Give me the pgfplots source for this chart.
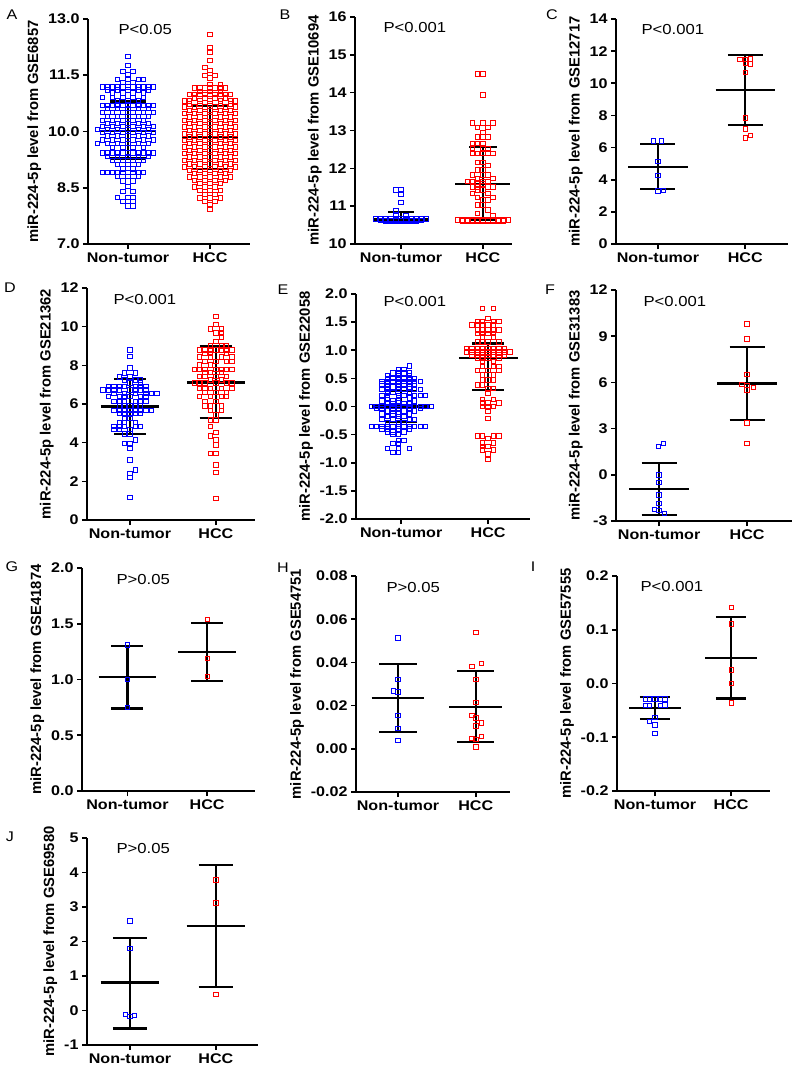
\documentclass[border=0pt]{standalone}
\usepackage{fontspec}
\setmainfont{Liberation Sans}[FakeStretch=1.15]
\newfontfamily\ylfont{Liberation Sans}
\usepackage{pgfplots}
\pgfplotsset{compat=1.18}
\definecolor{ntblue}{RGB}{0,0,255}
\definecolor{hccred}{RGB}{255,0,0}
\pgfplotsset{
 panel/.style={
  scale only axis, axis lines*=left, clip=false,
  axis line style={line width=1.6pt, black, -},
  tick align=outside, major tick length=5pt,
  tick style={line width=1.6pt, black},
  xtick pos=bottom, ytick pos=left,
  scaled y ticks=false, scaled x ticks=false,
  xticklabel style={font=\bfseries\fontsize{14}{14}\selectfont},
  yticklabel style={font=\bfseries\fontsize{14}{14}\selectfont},
  ylabel style={font=\ylfont\bfseries\fontsize{14.8}{15}\selectfont},
  xticklabels={Non-tumor,HCC},
  anchor=south west,
 },
 nt/.style={only marks, mark=square, mark size=2.2pt, color=ntblue, mark options={line width=0.9pt, solid}},
 hcc/.style={only marks, mark=square, mark size=2.2pt, color=hccred, mark options={line width=0.9pt, solid}},
 bar/.style={black, line width=2.2pt, mark=none},
}
\newcommand\hseg[3]{\addplot[bar] coordinates {(#1,#3)(#2,#3)};}
\newcommand\vseg[3]{\addplot[bar] coordinates {(#1,#2)(#1,#3)};}
\tikzset{ptxt/.style={anchor=west, font=\fontsize{14.5}{15}\selectfont},
  ltr/.style={font=\fontsize{14}{14}\selectfont}}
\begin{document}
\begin{tikzpicture}
\useasboundingbox (0,0) rectangle (800pt,-1070pt);
% ---------------- A
\begin{axis}[panel, at={(88pt,-244pt)}, width=162pt, height=225pt,
  xmin=-7.8, xmax=23.8, ymin=7, ymax=13, xtick={0,16},
  ytick={7,8.5,10,11.5,13}, yticklabels={7.0,8.5,10.0,11.5,13.0},
  ylabel={miR-224-5p level from GSE6857}]
\addplot[nt] coordinates {(0,12.0)(0,11.76)(-1,11.6)(1,11.6)(0,11.52)
(-2,11.38)(0,11.38)(2,11.38)(3,11.38)(-1,11.3)(1,11.3)
(-5,11.19)(-4,11.19)(-3,11.19)(-2,11.19)(-1,11.19)(0,11.19)(1,11.19)(2,11.19)(3,11.19)(4,11.19)(5,11.19)
(-4,11.11)(-2,11.11)(0,11.11)(2,11.11)(4,11.11)
(-3,11.03)(-1,11.03)(1,11.03)(3,11.03)
(-5,10.9)(-3,10.9)(-1,10.9)(1,10.9)(3,10.9)
(-2,10.83)(0,10.83)(2,10.83)
(-5,10.7)(-4,10.7)(-3,10.7)(-2,10.7)(-1,10.7)(0,10.7)(1,10.7)(2,10.7)(3,10.7)(4,10.7)(5,10.7)
(-4,10.62)(-2,10.62)(0,10.62)(2,10.62)(4,10.62)
(-5,10.51)(-3,10.51)(-1,10.51)(1,10.51)(3,10.51)(5,10.51)
(-4,10.4)(-2,10.4)(0,10.4)(2,10.4)(4,10.4)
(-5,10.3)(-3,10.3)(-1,10.3)(1,10.3)(3,10.3)
(-4,10.21)(-2,10.21)(0,10.21)(2,10.21)(4,10.21)
(-5,10.13)(-3,10.13)(-1,10.13)(1,10.13)(3,10.13)(5,10.13)
(-6,10.05)(-4,10.05)(-2,10.05)(0,10.05)(2,10.05)(4,10.05)
(-5,9.97)(-3,9.97)(-1,9.97)(1,9.97)(3,9.97)(5,9.97)
(-4,9.88)(-2,9.88)(0,9.88)(2,9.88)(4,9.88)
(-5,9.78)(-3,9.78)(-1,9.78)(1,9.78)(3,9.78)(5,9.78)
(-6,9.68)(-4,9.68)(-2,9.68)(0,9.68)(2,9.68)(4,9.68)
(-3,9.57)(-1,9.57)(1,9.57)(3,9.57)
(-5,9.43)(-4,9.43)(-3,9.43)(-2,9.43)(-1,9.43)(0,9.43)(1,9.43)(2,9.43)(3,9.43)(4,9.43)(5,9.43)
(-4,9.34)(-2,9.34)(0,9.34)(2,9.34)(4,9.34)
(-3,9.23)(-1,9.23)(1,9.23)(3,9.23)
(-2,9.12)(0,9.12)(2,9.12)(-1,9.0)(1,9.0)
(-5,8.91)(-4,8.91)(-3,8.91)(-2,8.91)(-1,8.91)(0,8.91)(1,8.91)(2,8.91)(3,8.91)
(-2,8.8)(0,8.8)(2,8.8)(-1,8.68)(1,8.68)(0,8.54)(-1,8.4)(1,8.4)
(-2,8.24)(0,8.24)(1,8.24)(-1,8.13)(1,8.13)(0,8.02)(1,8.02)};
\addplot[hcc] coordinates {(16,12.58)(16,12.24)(16,12.1)(16,11.9)(15,11.71)(16,11.62)
(15,11.49)(17,11.49)(16,11.43)(16,11.25)(18,11.25)
(13,11.16)(14,11.16)(15,11.16)(16,11.16)(17,11.16)(18,11.16)(19,11.16)
(14,11.07)(16,11.07)(18,11.07)
(12,10.98)(13,10.98)(14,10.98)(15,10.98)(16,10.98)(17,10.98)(18,10.98)(19,10.98)(20,10.98)
(13,10.89)(15,10.89)(17,10.89)(19,10.89)
(11,10.82)(12,10.82)(14,10.82)(16,10.82)(18,10.82)(20,10.82)(21,10.82)
(12,10.74)(14,10.74)(16,10.74)(18,10.74)(20,10.74)
(11,10.65)(13,10.65)(15,10.65)(17,10.65)(19,10.65)(21,10.65)
(12,10.56)(14,10.56)(16,10.56)(18,10.56)(20,10.56)
(11,10.48)(13,10.48)(15,10.48)(17,10.48)(19,10.48)(21,10.48)
(12,10.39)(14,10.39)(16,10.39)(18,10.39)(20,10.39)
(11,10.3)(13,10.3)(15,10.3)(17,10.3)(19,10.3)(21,10.3)
(12,10.21)(14,10.21)(16,10.21)(18,10.21)(20,10.21)
(11,10.12)(13,10.12)(15,10.12)(17,10.12)(19,10.12)(21,10.12)
(12,10.03)(14,10.03)(16,10.03)(18,10.03)(20,10.03)
(11,9.94)(13,9.94)(15,9.94)(17,9.94)(19,9.94)(21,9.94)
(12,9.85)(14,9.85)(16,9.85)(18,9.85)(20,9.85)
(11,9.76)(13,9.76)(15,9.76)(17,9.76)(19,9.76)(21,9.76)
(12,9.68)(14,9.68)(16,9.68)(18,9.68)(20,9.68)
(11,9.59)(13,9.59)(15,9.59)(17,9.59)(19,9.59)(21,9.59)
(12,9.5)(14,9.5)(16,9.5)(18,9.5)(20,9.5)
(11,9.41)(13,9.41)(15,9.41)(17,9.41)(19,9.41)(21,9.41)
(12,9.32)(14,9.32)(16,9.32)(18,9.32)(20,9.32)
(11,9.23)(13,9.23)(15,9.23)(17,9.23)(19,9.23)(21,9.23)
(12,9.14)(14,9.14)(16,9.14)(18,9.14)(20,9.14)
(11,9.05)(13,9.05)(15,9.05)(17,9.05)(19,9.05)(21,9.05)
(12,8.96)(14,8.96)(16,8.96)(18,8.96)(20,8.96)
(13,8.88)(15,8.88)(17,8.88)(19,8.88)
(12,8.79)(14,8.79)(16,8.79)(18,8.79)(20,8.79)
(13,8.7)(15,8.7)(17,8.7)(19,8.7)
(14,8.61)(16,8.61)(18,8.61)(13,8.52)(15,8.52)(17,8.52)
(14,8.43)(16,8.43)(18,8.43)(15,8.32)(17,8.32)
(14,8.23)(16,8.23)(18,8.23)(15,8.14)(17,8.14)(16,8.05)(16,7.92)};
\hseg{-5.4}{5.4}{10.02}\hseg{-3.5}{3.5}{10.8}\hseg{-3.5}{3.5}{9.28}\vseg{0}{9.28}{10.8}
\hseg{10.6}{21.4}{9.85}\hseg{12.5}{19.5}{10.69}\hseg{12.5}{19.5}{9.0}\vseg{16}{9.0}{10.69}
\end{axis}
% ---------------- B
\begin{axis}[panel, at={(355pt,-244pt)}, width=157pt, height=227pt,
  xmin=-9, xmax=21.7, ymin=10, ymax=16, xtick={0,16},
  ytick={10,11,...,16}, yticklabels={10,11,12,13,14,15,16},
  ylabel={miR-224-5p level from GSE10694}]
\addplot[nt] coordinates {(-1,11.43)(0,11.43)(0,11.32)(0,11.1)(-1,10.88)(-1,10.76)(1,10.76)
(-5,10.66)(-4,10.66)(-3,10.66)(-2,10.66)(-1,10.66)(0,10.66)(1,10.66)(2,10.66)(3,10.66)(4,10.66)(5,10.66)
(-4,10.63)(-3,10.63)(-2,10.63)(-1,10.63)(0,10.63)(1,10.63)(2,10.63)(3,10.63)(4,10.63)
(-3,10.61)(-2,10.61)(-1,10.61)(0,10.61)(1,10.61)(2,10.61)(3,10.61)};
\addplot[hcc] coordinates {(15,14.49)(16,14.49)(16,13.94)
(14,13.2)(16,13.2)(18,13.2)(15,13.08)(17,13.08)(16,12.95)
(15,12.83)(16,12.83)(17,12.83)(14,12.66)(15,12.66)(16,12.66)
(14,12.52)(16,12.52)(17,12.52)(14,12.4)(15,12.4)(16,12.4)(17,12.4)(18,12.4)
(15,12.15)(16,12.15)(17,12.07)(15,11.96)(16,11.96)
(14,11.82)(16,11.82)(17,11.82)(15,11.74)(18,11.74)
(13,11.65)(14,11.65)(16,11.65)(17,11.65)(15,11.59)(16,11.59)
(14,11.51)(15,11.51)(17,11.51)(18,11.51)(15,11.43)(16,11.43)
(14,11.34)(17,11.34)(15,11.23)(18,11.23)(16,11.16)(17,11.16)
(15,11.03)(16,11.03)(17,10.9)(15,10.81)(18,10.74)
(11,10.64)(12,10.64)(13,10.64)(14,10.64)(15,10.64)(16,10.64)(17,10.64)(18,10.64)(19,10.64)(20,10.64)(21,10.64)
(12,10.61)(13,10.61)(14,10.61)(15,10.61)(16,10.61)(17,10.61)(18,10.61)(19,10.61)(20,10.61)};
\hseg{-5.4}{5.4}{10.65}\hseg{-2.5}{2.5}{10.85}\hseg{-2.5}{2.5}{10.56}\vseg{0}{10.56}{10.85}
\hseg{10.6}{21.4}{11.59}\hseg{13.3}{18.7}{12.56}\hseg{13.3}{18.7}{10.63}\vseg{16}{10.63}{12.56}
\end{axis}
% ---------------- C
\begin{axis}[panel, at={(616pt,-244pt)}, width=172pt, height=225pt,
  xmin=0.52, xmax=2.49, ymin=0, ymax=14, xtick={1,2},
  ytick={0,2,...,14}, yticklabels={0,2,4,6,8,10,12,14},
  ylabel={miR-224-5p level from GSE12717}]
\addplot[nt] coordinates {(0.95,6.4)(1.04,6.4)(1.0,5.14)(1.0,4.25)(1.0,3.3)(1.06,3.35)};
\addplot[hcc] coordinates {(1.94,11.48)(2.0,11.48)(2.06,11.52)(2.0,11.23)(2.06,11.2)(2.0,10.67)(2.0,7.85)(2.0,7.15)(2.0,6.6)(2.06,6.75)};
\hseg{0.66}{1.34}{4.8}\hseg{0.8}{1.2}{6.2}\hseg{0.8}{1.2}{3.4}\vseg{1}{3.4}{6.2}
\hseg{1.66}{2.34}{9.58}\hseg{1.8}{2.2}{11.76}\hseg{1.8}{2.2}{7.4}\vseg{2}{7.4}{11.76}
\end{axis}
% ---------------- D
\begin{axis}[panel, at={(87pt,-520pt)}, width=168pt, height=232pt,
  xmin=-8, xmax=23.3, ymin=0, ymax=12, xtick={0,16},
  ytick={0,2,...,12}, yticklabels={0,2,4,6,8,10,12},
  ylabel={miR-224-5p level from GSE21362}]
\addplot[nt] coordinates {(0,8.8)(0,8.46)(0,7.86)(-1,7.6)(1,7.6)(-2,7.39)(0,7.39)
(-1,7.25)(1,7.25)(2,7.25)(0,7.08)(2,7.08)
(-4,6.9)(-3,6.9)(-2,6.9)(-1,6.9)(1,6.9)(2,6.9)(3,6.9)
(-5,6.73)(-4,6.73)(-3,6.73)(-2,6.73)(0,6.73)(1,6.73)(2,6.73)(3,6.73)
(-3,6.56)(-1,6.56)(1,6.56)(3,6.56)(4,6.56)(5,6.56)
(-4,6.39)(-2,6.39)(-1,6.39)(0,6.39)(2,6.39)(3,6.39)
(-3,6.13)(-2,6.13)(-1,6.13)(1,6.13)(2,6.13)(3,6.13)
(-2,5.9)(-1,5.9)(0,5.9)(1,5.9)(2,5.9)
(-3,5.66)(-2,5.66)(-1,5.66)(0,5.66)(1,5.66)(2,5.66)(3,5.66)(4,5.66)
(-2,5.52)(-1,5.52)(0,5.52)(1,5.52)(2,5.52)(-1,5.26)(0,5.26)
(-2,5.04)(-1,5.04)(1,5.04)(-3,4.83)(-2,4.83)(-1,4.83)(1,4.83)(2,4.83)
(-3,4.69)(-2,4.69)(0,4.69)(-1,4.45)(0,4.45)(1,4.14)(-1,3.97)(0,3.97)
(0,3.71)(0,3.1)(1,2.59)(0,2.42)(0,2.2)(0,1.17)};
\addplot[hcc] coordinates {(16,10.53)(16,10.1)(15,9.88)(17,9.88)(16,9.67)(17,9.67)(17,9.46)(16,9.24)
(15,9.01)(17,9.01)(18,9.01)
(13,8.8)(14,8.8)(15,8.8)(16,8.8)(17,8.8)(18,8.8)(19,8.8)
(14,8.6)(15,8.6)(18,8.6)(13,8.43)(15,8.43)(17,8.43)(19,8.43)
(14,8.2)(16,8.2)(18,8.2)(19,8.2)(13,8.03)(15,8.03)
(12,7.8)(13,7.8)(14,7.8)(16,7.8)(17,7.8)(18,7.8)(19,7.8)
(14,7.63)(15,7.63)(17,7.63)(13,7.42)(14,7.42)(16,7.42)(18,7.42)(15,7.25)(17,7.25)
(12,7.08)(13,7.08)(14,7.08)(16,7.08)(18,7.08)(19,7.08)
(13,6.82)(14,6.82)(15,6.82)(17,6.82)(19,6.82)(14,6.59)(16,6.59)(18,6.59)
(13,6.39)(15,6.39)(17,6.39)(18,6.39)(14,6.13)(16,6.13)(14,5.9)(15,5.9)(17,5.9)
(15,5.66)(17,5.66)(16,5.44)(15,5.18)(16,5.18)(15,4.83)(16,4.52)(15,4.35)(16,4.14)(16,3.88)
(15,3.45)(16,3.45)(16,2.85)(16,2.45)(16,1.12)};
\hseg{-5.4}{5.4}{5.87}\hseg{-3}{3}{7.28}\hseg{-3}{3}{4.45}\vseg{0}{4.45}{7.28}
\hseg{10.6}{21.4}{7.11}\hseg{13}{19}{8.98}\hseg{13}{19}{5.26}\vseg{16}{5.26}{8.98}
\end{axis}
% ---------------- E
\begin{axis}[panel, at={(356pt,-519pt)}, width=174pt, height=225pt,
  xmin=-8.3, xmax=23.7, ymin=-2, ymax=2, xtick={0,16},
  ytick={-2,-1.5,...,2}, yticklabels={-2.0,-1.5,-1.0,-0.5,0.0,0.5,1.0,1.5,2.0},
  ylabel={miR-224-5p level from GSE22058}]
\addplot[nt] coordinates {(1.5,0.72)(-0.5,0.66)(0.5,0.66)
(-1.5,0.6)(-0.5,0.6)(0.5,0.6)(1.5,0.6)(-2.5,0.55)(-0.5,0.55)(1.5,0.55)
(-2.5,0.5)(-1.5,0.5)(-0.5,0.5)(0.5,0.5)(1.5,0.5)(2.5,0.5)
(-3.5,0.45)(-2.5,0.45)(-1.5,0.45)(-0.5,0.45)(0.5,0.45)(1.5,0.45)(2.5,0.45)(3.5,0.45)
(-3.5,0.4)(-2.5,0.4)(-0.5,0.4)(0.5,0.4)(1.5,0.4)(2.5,0.4)
(-2.5,0.35)(-1.5,0.35)(-0.5,0.35)(1.5,0.35)
(-3.5,0.3)(-2.5,0.3)(-0.5,0.3)(0.5,0.3)(2.5,0.3)(3.5,0.3)
(-2.5,0.25)(-1.5,0.25)(1.5,0.25)
(-3.5,0.2)(-2.5,0.2)(-0.5,0.2)(0.5,0.2)(2.5,0.2)(3.5,0.2)(4.5,0.2)
(-2.5,0.15)(-0.5,0.15)(1.5,0.15)(-3.5,0.1)(-1.5,0.1)(-0.5,0.1)(2.5,0.1)
(-2.5,0.05)(-1.5,0.05)(0.5,0.05)(1.5,0.05)
(-5.5,0)(-4.5,0)(-3.5,0)(-2.5,0)(-1.5,0)(-0.5,0)(0.5,0)(1.5,0)(2.5,0)(3.5,0)(4.5,0)(5.5,0)
(-4.5,-0.03)(-3.5,-0.03)(-1.5,-0.03)(-0.5,-0.03)(1.5,-0.03)(3.5,-0.03)
(-2.5,-0.08)(-1.5,-0.08)(0.5,-0.08)(2.5,-0.08)
(-3.5,-0.13)(-1.5,-0.13)(-0.5,-0.13)(1.5,-0.13)
(-2.5,-0.18)(-0.5,-0.18)(0.5,-0.18)
(-3.5,-0.23)(-1.5,-0.23)(1.5,-0.23)(2.5,-0.23)
(-2.5,-0.28)(-0.5,-0.28)(0.5,-0.28)
(-5.5,-0.35)(-4.5,-0.35)(-3.5,-0.35)(-2.5,-0.35)(-1.5,-0.35)(-0.5,-0.35)(0.5,-0.35)(1.5,-0.35)(2.5,-0.35)(3.5,-0.35)(4.5,-0.35)
(-3.5,-0.4)(-2.5,-0.4)(-0.5,-0.4)(1.5,-0.4)(-2.5,-0.45)(-1.5,-0.45)(0.5,-0.45)
(-1.5,-0.5)(-0.5,-0.5)(-0.5,-0.6)(0.5,-0.6)(-1.5,-0.66)(-0.5,-0.66)
(-2.5,-0.75)(-0.5,-0.75)(1.5,-0.75)(-1.5,-0.82)(-0.5,-0.82)};
\addplot[hcc] coordinates {(15,1.745)(17,1.745)(16,1.57)
(14,1.51)(15,1.51)(17,1.51)(18,1.51)
(13,1.45)(14,1.45)(15,1.45)(16,1.45)(17,1.45)
(14,1.36)(15,1.36)(16,1.36)(17,1.36)(18,1.36)
(14,1.3)(15,1.3)(16,1.3)(17,1.3)(15,1.24)(17,1.24)
(14,1.15)(15,1.15)(16,1.15)(18,1.15)
(12,1.03)(13,1.03)(14,1.03)(15,1.03)(16,1.03)(17,1.03)(18,1.03)(19,1.03)
(12,0.97)(13,0.97)(14,0.97)(15,0.97)(16,0.97)(17,0.97)(18,0.97)(19,0.97)(20,0.97)
(13,0.92)(14,0.92)(15,0.92)(16,0.92)(17,0.92)(18,0.92)(19,0.92)
(14,0.86)(15,0.86)(16,0.86)(18,0.86)(15,0.8)(17,0.8)
(15,0.71)(17,0.71)(18,0.71)(14,0.64)(16,0.64)(18,0.64)(15,0.56)(17,0.56)
(15,0.47)(16,0.47)(17,0.47)(14,0.38)(15,0.38)(16,0.32)(17,0.32)(16,0.23)
(15,0.13)(17,0.13)(15,0.06)(16,0.06)(18,0.06)(15,0)(16,0)(17,0)
(16,-0.09)(16,-0.21)(14,-0.52)(15,-0.52)(17,-0.52)(18,-0.52)(16,-0.57)
(15,-0.65)(17,-0.65)(15,-0.71)(16,-0.71)(15,-0.77)(17,-0.77)(16,-0.84)(16,-0.94)};
\hseg{-5.4}{5.4}{0.0}\hseg{-3}{3}{0.28}\hseg{-3}{3}{-0.28}\vseg{0}{-0.28}{0.28}
\hseg{10.6}{21.4}{0.86}\hseg{13}{19}{1.12}\hseg{13}{19}{0.3}\vseg{16}{0.3}{1.12}
\end{axis}
% ---------------- F
\begin{axis}[panel, at={(616pt,-521pt)}, width=176pt, height=231pt,
  xmin=0.51, xmax=2.51, ymin=-3, ymax=12, xtick={1,2},
  ytick={-3,0,...,12}, yticklabels={-3,0,3,6,9,12},
  ylabel={miR-224-5p level from GSE31383}]
\addplot[nt] coordinates {(0.99,1.85)(1.05,2.02)(1.0,0.0)(1.0,-0.5)(1.0,-1.3)(1.0,-1.85)(0.95,-2.25)(1.0,-2.3)(1.06,-2.5)};
\addplot[hcc] coordinates {(2.0,9.79)(2.0,8.81)(2.0,6.53)(1.94,5.88)(2.0,5.8)(2.07,5.67)(2.0,5.5)(2.0,3.37)(2.0,2.02)};
\hseg{0.66}{1.34}{-0.9}\hseg{0.8}{1.2}{0.78}\hseg{0.8}{1.2}{-2.62}\vseg{1}{-2.62}{0.78}
\hseg{1.66}{2.34}{5.93}\hseg{1.8}{2.2}{8.31}\hseg{1.8}{2.2}{3.54}\vseg{2}{3.54}{8.31}
\end{axis}
% ---------------- G
\begin{axis}[panel, at={(82pt,-791pt)}, width=173pt, height=223pt,
  xmin=0.43, xmax=2.6, ymin=0, ymax=2, xtick={1,2},
  ytick={0,0.5,...,2}, yticklabels={0.0,0.5,1.0,1.5,2.0},
  ylabel={miR-224-5p level from GSE41874}]
\addplot[nt] coordinates {(1,1.31)(1,1.0)(1,0.75)};
\addplot[hcc] coordinates {(2,1.54)(2,1.19)(2,1.03)};
\hseg{0.64}{1.36}{1.02}\hseg{0.8}{1.2}{1.3}\hseg{0.8}{1.2}{0.74}\vseg{1}{0.74}{1.3}
\hseg{1.64}{2.36}{1.25}\hseg{1.8}{2.2}{1.51}\hseg{1.8}{2.2}{0.99}\vseg{2}{0.99}{1.51}
\end{axis}
% ---------------- H
\begin{axis}[panel, at={(356pt,-792pt)}, width=154pt, height=216pt,
  xmin=0.46, xmax=2.44, ymin=-0.02, ymax=0.08, xtick={1,2},
  ytick={-0.02,0,0.02,0.04,0.06,0.08}, yticklabels={-0.02,0.00,0.02,0.04,0.06,0.08},
  ylabel={miR-224-5p level from GSE54751}]
\addplot[nt] coordinates {(1,0.0513)(1,0.0322)(0.94,0.0268)(1,0.0263)(1,0.0155)(1,0.0093)(1,0.0039)};
\addplot[hcc] coordinates {(2,0.054)(1.95,0.0382)(2.07,0.0394)(2,0.032)(2,0.0214)(1.95,0.0155)(2,0.0143)(2.07,0.012)(2,0.0106)(1.95,0.0047)(2,0.0042)(2.07,0.0057)(2,0.0008)};
\hseg{0.66}{1.34}{0.0237}\hseg{0.76}{1.24}{0.0394}\hseg{0.76}{1.24}{0.0076}\vseg{1}{0.0076}{0.0394}
\hseg{1.66}{2.34}{0.0194}\hseg{1.76}{2.24}{0.036}\hseg{1.76}{2.24}{0.003}\vseg{2}{0.003}{0.036}
\end{axis}
% ---------------- I
\begin{axis}[panel, at={(617pt,-791pt)}, width=153pt, height=215pt,
  xmin=0.5, xmax=2.51, ymin=-0.2, ymax=0.2, xtick={1,2},
  ytick={-0.2,-0.1,0,0.1,0.2}, yticklabels={-0.2,-0.1,0.0,0.1,0.2},
  ylabel={miR-224-5p level from GSE57555}]
\addplot[nt] coordinates {(0.87,-0.029)(0.93,-0.029)(1,-0.029)(1.07,-0.029)(1.13,-0.029)(0.87,-0.041)(0.93,-0.041)(1.07,-0.041)(1.13,-0.04)(1,-0.063)(0.93,-0.071)(1,-0.077)(1,-0.093)};
\addplot[hcc] coordinates {(2,0.141)(2,0.111)(2,0.025)(2,0.0)(2,-0.036)};
\hseg{0.66}{1.34}{-0.046}\hseg{0.8}{1.2}{-0.025}\hseg{0.8}{1.2}{-0.066}\vseg{1}{-0.066}{-0.025}
\hseg{1.66}{2.34}{0.048}\hseg{1.8}{2.2}{0.124}\hseg{1.8}{2.2}{-0.028}\vseg{2}{-0.028}{0.124}
\end{axis}
% ---------------- J
\begin{axis}[panel, at={(87pt,-1045pt)}, width=171pt, height=207pt,
  xmin=0.5, xmax=2.49, ymin=-1, ymax=5, xtick={1,2},
  ytick={-1,0,...,5}, yticklabels={-1,0,1,2,3,4,5},
  ylabel={miR-224-5p level from GSE69580}]
\addplot[nt] coordinates {(1,2.6)(1,1.8)(0.95,-0.11)(1,-0.17)(1.05,-0.15)};
\addplot[hcc] coordinates {(2,3.79)(2,3.12)(2,0.47)};
\hseg{0.66}{1.34}{0.81}\hseg{0.8}{1.2}{2.11}\hseg{0.8}{1.2}{-0.52}\vseg{1}{-0.52}{2.11}
\hseg{1.66}{2.34}{2.46}\hseg{1.8}{2.2}{4.21}\hseg{1.8}{2.2}{0.68}\vseg{2}{0.68}{4.21}
\end{axis}
% ---------------- letters and p values
\node[ltr] at (12pt,-15pt) {A};
\node[ltr] at (285pt,-15pt) {B};
\node[ltr] at (552pt,-15pt) {C};
\node[ltr] at (10pt,-288pt) {D};
\node[ltr] at (283pt,-290pt) {E};
\node[ltr] at (550pt,-290pt) {F};
\node[ltr] at (12pt,-567pt) {G};
\node[ltr] at (283pt,-568pt) {H};
\node[ltr] at (533pt,-567pt) {I};
\node[ltr] at (10pt,-837pt) {J};
\node[ptxt] at (115pt,-30pt) {P<0.05};
\node[ptxt] at (380pt,-28pt) {P<0.001};
\node[ptxt] at (638pt,-30pt) {P<0.001};
\node[ptxt] at (110pt,-300pt) {P<0.001};
\node[ptxt] at (380pt,-302pt) {P<0.001};
\node[ptxt] at (640pt,-302pt) {P<0.001};
\node[ptxt] at (113pt,-580pt) {P>0.05};
\node[ptxt] at (383pt,-588pt) {P>0.05};
\node[ptxt] at (637pt,-587pt) {P<0.001};
\node[ptxt] at (113pt,-848pt) {P>0.05};
\end{tikzpicture}
\end{document}
